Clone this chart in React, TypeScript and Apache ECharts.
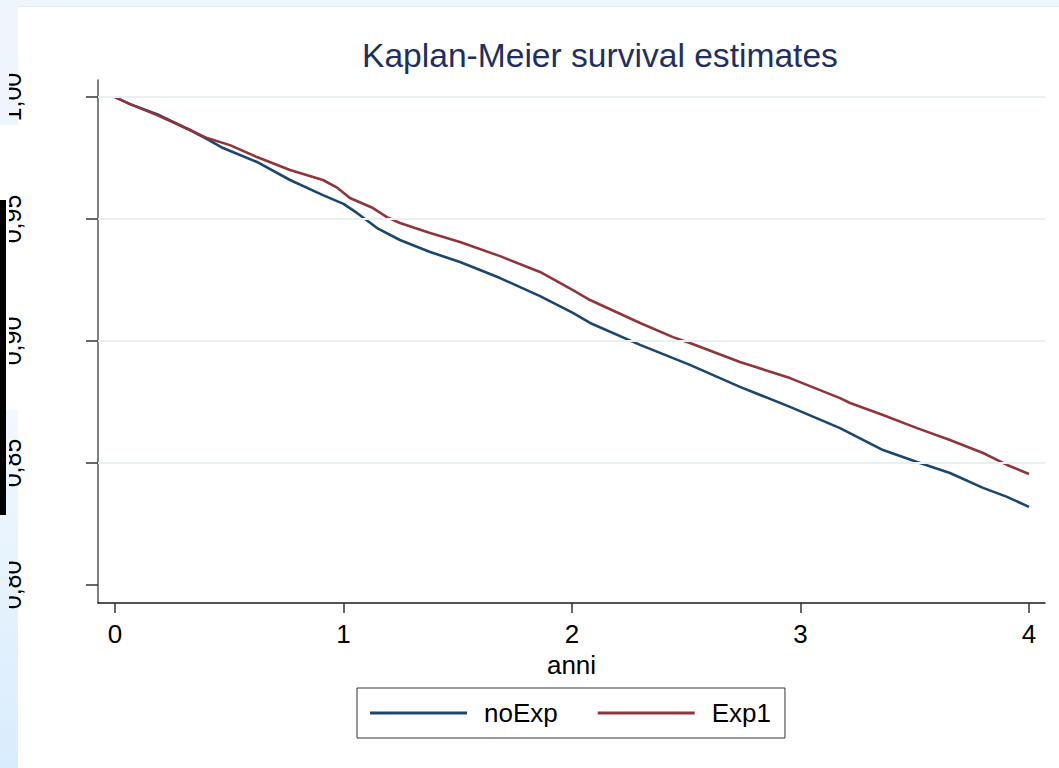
import React, { useEffect, useRef } from "react";
import * as echarts from "echarts";

const titleText = "Kaplan-Meier survival estimates";
const xAxisName = "anni";
const xTicks = [0, 1, 2, 3, 4];
const yTicks = [0.8, 0.85, 0.9, 0.95, 1.0];
const gridValues = [0.85, 0.9, 0.95, 1.0];

const noExpTimes = [0, 0.066, 0.184, 0.328, 0.403, 0.473, 0.621, 0.766, 0.91, 1.0, 1.059, 1.147, 1.247, 1.379, 1.51, 1.685, 1.86, 2.004, 2.079, 2.298, 2.516, 2.735, 2.954, 3.173, 3.361, 3.51, 3.654, 3.799, 3.904, 4.0];
const noExpSurv = [1.0, 0.9971, 0.993, 0.9865, 0.9828, 0.9791, 0.9734, 0.966, 0.9598, 0.9562, 0.9525, 0.9463, 0.9414, 0.9365, 0.9324, 0.9258, 0.9184, 0.9115, 0.9074, 0.8984, 0.8902, 0.8812, 0.873, 0.8643, 0.8553, 0.8504, 0.8459, 0.8398, 0.8361, 0.832];

const exp1Times = [0, 0.066, 0.184, 0.328, 0.403, 0.503, 0.621, 0.766, 0.91, 0.97, 1.028, 1.129, 1.19, 1.247, 1.379, 1.51, 1.685, 1.86, 2.004, 2.079, 2.298, 2.442, 2.516, 2.735, 2.954, 3.173, 3.217, 3.361, 3.51, 3.654, 3.799, 3.904, 4.0];
const exp1Surv = [1.0, 0.9971, 0.9926, 0.9865, 0.9832, 0.9803, 0.9754, 0.9701, 0.966, 0.963, 0.9586, 0.9545, 0.9508, 0.9484, 0.9443, 0.9406, 0.9348, 0.9283, 0.9209, 0.9168, 0.9074, 0.9016, 0.8992, 0.8914, 0.8848, 0.8766, 0.8746, 0.8697, 0.8643, 0.8594, 0.8541, 0.8492, 0.8455];

const seriesNames = ["noExp", "Exp1"];
const seriesColors = ["#1a476f", "#90353b"];

const FONT = "Liberation Sans, Arial, sans-serif";

export default function App() {
  const ref = useRef<HTMLDivElement>(null);
  useEffect(() => {
    if (!ref.current) return;
    const chart = echarts.init(ref.current, undefined, { renderer: "svg" });
    const pairs = (ts: number[], vs: number[]) => ts.map((t, i) => [t, vs[i]]);
    const stripGradient = () =>
      new echarts.graphic.LinearGradient(0, 0, 0, 1, [
        { offset: 0, color: "#f2f8fe" },
        { offset: 1, color: "#d9ecfd" },
      ]);
    chart.setOption({
      animation: false,
      backgroundColor: "#ffffff",
      textStyle: { fontFamily: FONT },
      title: {
        text: titleText,
        left: 362,
        top: 38,
        padding: 0,
        textStyle: { fontSize: 33.6, fontWeight: "normal", color: "#1f2f5f", fontFamily: FONT },
      },
      graphic: [
        { type: "rect", z: -10, shape: { x: 0, y: 0, width: 1059, height: 6 }, style: { fill: "#eef5fc" } },
        { type: "line", z: -9, shape: { x1: 18, y1: 6.5, x2: 1059, y2: 6.5 }, style: { stroke: "#e3ebf2", lineWidth: 1 } },
        { type: "rect", z: -10, shape: { x: 0, y: 0, width: 18, height: 125 }, style: { fill: "#eef5fc" } },
        { type: "rect", z: -10, shape: { x: 0, y: 410, width: 18, height: 358 }, style: { fill: stripGradient() } },
        { type: "rect", z: 100, shape: { x: 0, y: 0, width: 9, height: 125 }, style: { fill: "#eef5fc" } },
        { type: "rect", z: 100, shape: { x: 0, y: 125, width: 9, height: 285 }, style: { fill: "#ffffff" } },
        { type: "rect", z: 100, shape: { x: 0, y: 410, width: 9, height: 358 }, style: { fill: stripGradient() } },
        { type: "rect", z: 101, shape: { x: 0, y: 200, width: 6, height: 315 }, style: { fill: "#000000" } },
      ],
      legend: {
        data: seriesNames,
        left: 357,
        top: 688,
        orient: "horizontal",
        padding: [12, 14, 12, 13],
        borderColor: "#333333",
        borderWidth: 1,
        itemGap: 40,
        itemWidth: 97,
        itemHeight: 3,
        icon: "rect",
        textStyle: { fontSize: 26, color: "#000000", fontFamily: FONT, padding: [0, 0, 0, 12] },
      },
      grid: { left: 98, right: 14, top: 80, bottom: 165, containLabel: false, outerBoundsMode: "none" },
      xAxis: {
        type: "value",
        min: -0.0744,
        max: 4.07,
        name: xAxisName,
        nameLocation: "middle",
        nameGap: 41,
        nameTextStyle: { fontSize: 26, color: "#000000", fontFamily: FONT },
        axisLine: { show: true, onZero: false, lineStyle: { color: "#1a1a1a", width: 1.5 } },
        axisTick: { show: true, length: 10, customValues: xTicks, lineStyle: { color: "#333333", width: 1.5 } },
        axisLabel: { customValues: xTicks, fontSize: 26, color: "#000000", margin: 18, fontFamily: FONT },
        splitLine: { show: false },
      },
      yAxis: {
        type: "value",
        min: 0.7926,
        max: 1.007,
        axisLine: { show: true, onZero: false, lineStyle: { color: "#555555", width: 1.5 } },
        axisTick: { show: true, length: 12, customValues: yTicks, lineStyle: { color: "#333333", width: 1.5 } },
        axisLabel: {
          customValues: yTicks,
          rotate: 90,
          fontSize: 25,
          color: "#000000",
          margin: 74,
          fontFamily: FONT,
          formatter: (v: number) => v.toFixed(2).replace(".", ","),
        },
        splitLine: { show: false },
      },
      series: [
        {
          name: "grid",
          type: "line",
          data: [],
          z: 1,
          silent: true,
          markLine: {
            silent: true,
            symbol: ["none", "none"],
            label: { show: false },
            lineStyle: { color: "#e8f0f2", width: 2, type: "solid" },
            data: gridValues.map((v) => ({ yAxis: v })),
          },
        },
        {
          name: seriesNames[0],
          type: "line",
          z: 3,
          showSymbol: false,
          data: pairs(noExpTimes, noExpSurv),
          lineStyle: { color: seriesColors[0], width: 2.6 },
          itemStyle: { color: seriesColors[0] },
        },
        {
          name: seriesNames[1],
          type: "line",
          z: 3,
          showSymbol: false,
          data: pairs(exp1Times, exp1Surv),
          lineStyle: { color: seriesColors[1], width: 2.6 },
          itemStyle: { color: seriesColors[1] },
        },
      ],
    });
    return () => chart.dispose();
  }, []);
  return (
    <div
      ref={ref}
      style={{ position: "fixed", left: 0, top: 0, width: 1059, height: 768 }}
    />
  );
}
